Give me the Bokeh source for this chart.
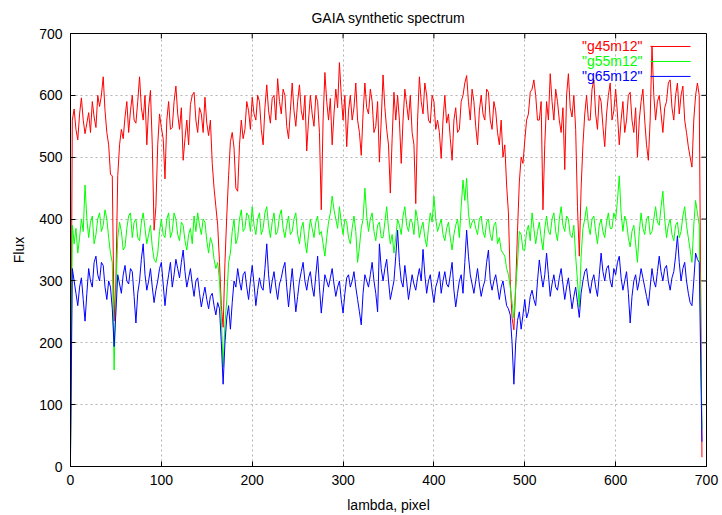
from bokeh.plotting import figure
from bokeh.models import Range1d, FixedTicker, Label
from bokeh.embed import file_html
from bokeh.resources import INLINE

# ---------------- data ----------------
pixel = list(range(0, 693, 2)) + [695]

g45m12 = [30, 560,
    578, 545, 528, 570, 596, 560, 538, 555, 572, 540, 590, 565, 548, 600, 582, 600, 630, 575, 540, 520,
    472, 470, 235, 300, 470, 520, 545, 530, 565, 590, 540, 575, 600, 560, 555, 590, 630, 580, 560, 600,
    520, 580, 608, 520, 382, 420, 520, 570, 548, 530, 465, 560, 590, 545, 548, 590, 615, 570, 545, 580,
    495, 530, 560, 520, 585, 600, 605, 560, 540, 580, 570, 540, 597, 555, 535, 560, 490, 450, 420, 390,
    330, 260, 225, 330, 405, 470, 525, 540, 515, 450, 445, 520, 560, 530, 545, 590, 575, 545, 597, 570,
    560, 600, 590, 545, 520, 580, 617, 575, 555, 595, 600, 560, 627, 590, 570, 610, 600, 550, 530, 575,
    620, 575, 550, 590, 617, 575, 560, 600, 510, 560, 600, 570, 550, 600, 590, 540, 415, 560, 637, 590,
    560, 595, 520, 570, 610, 580, 653, 600, 560, 600, 517, 575, 600, 560, 580, 620, 560, 540, 503, 570,
    620, 580, 570, 610, 590, 540, 550, 590, 492, 560, 633, 580, 545, 520, 442, 530, 605, 560, 600, 560,
    490, 560, 610, 585, 560, 600, 540, 520, 425, 560, 630, 590, 570, 620, 600, 560, 555, 600, 590, 545,
    560, 540, 498, 560, 600, 555, 570, 530, 495, 560, 580, 540, 545, 590, 600, 620, 632, 590, 560, 610,
    590, 550, 520, 575, 600, 570, 560, 610, 605, 560, 545, 590, 575, 540, 520, 560, 500, 520, 455, 410,
    300, 240, 221, 290, 382, 460, 500, 490, 527, 560, 570, 605, 610, 625, 600, 560, 560, 590, 415, 520,
    590, 560, 635, 590, 560, 610, 590, 560, 540, 580, 480, 600, 635, 580, 565, 600, 545, 420, 340, 450,
    520, 570, 600, 560, 560, 610, 625, 570, 545, 600, 590, 550, 517, 570, 600, 620, 560, 575, 610, 570,
    520, 560, 590, 540, 560, 600, 605, 560, 540, 580, 500, 560, 590, 610, 560, 520, 495, 560, 680, 600,
    560, 590, 600, 570, 540, 580, 590, 620, 625, 580, 560, 600, 620, 570, 600, 615, 560, 540, 517, 500,
    484, 560, 600, 620, 600,
    15]

g55m12 = [20, 390,
    360, 385, 345, 370, 400, 380, 455, 400, 370, 395, 405, 360, 375, 400, 410, 380, 390, 415, 400, 370,
    345, 330, 156, 280, 370, 395, 380, 350, 355, 385, 405, 410, 370, 395, 400, 370, 365, 395, 410, 385,
    360, 375, 390, 355, 335, 330, 345, 380, 400, 375, 370, 400, 410, 370, 380, 410, 400, 375, 365, 395,
    390, 365, 350, 375, 385, 360, 405, 380, 410, 390, 375, 400, 395, 365, 345, 370, 360, 335, 320, 330,
    300, 240, 161, 230, 270, 330, 345, 380, 400, 360, 370, 400, 415, 380, 385, 410, 405, 380, 420, 390,
    375, 400, 410, 375, 385, 410, 420, 390, 370, 395, 410, 375, 380, 405, 415, 385, 370, 390, 405, 375,
    380, 400, 410, 375, 360, 385, 395, 365, 345, 375, 400, 385, 370, 395, 405, 375, 380, 360, 340, 370,
    395, 410, 437, 415, 400, 385, 420, 395, 375, 400, 395, 370, 360, 385, 405, 380, 330, 355, 385, 400,
    450, 405, 380, 400, 410, 380, 365, 390, 395, 370, 370, 395, 420, 385, 360, 375, 345, 370, 400, 390,
    375, 405, 420, 390, 380, 400, 395, 375, 415, 400, 370, 385, 395, 370, 355, 385, 410, 395, 437, 400,
    380, 390, 400, 375, 365, 385, 395, 370, 350, 375, 390, 400, 370, 420, 463, 430, 466, 410, 385, 395,
    400, 385, 375, 400, 405, 380, 370, 395, 400, 375, 365, 390, 395, 360, 370, 350, 345, 340, 320, 310,
    290, 265, 240, 290, 330, 380, 375, 350, 350, 380, 390, 365, 410, 385, 360, 380, 395, 370, 350, 385,
    405, 380, 375, 400, 410, 380, 365, 400, 420, 390, 380, 405, 400, 375, 370, 390, 340, 300, 258, 340,
    385, 400, 420, 390, 375, 400, 405, 380, 360, 390, 400, 380, 370, 395, 410, 385, 385, 410, 400, 430,
    470, 410, 380, 405, 395, 370, 355, 380, 390, 360, 330, 380, 410, 385, 375, 400, 405, 375, 380, 400,
    420, 395, 390, 420, 445, 400, 370, 390, 400, 375, 365, 390, 395, 370, 380, 405, 420, 390, 370, 350,
    330, 390, 430, 410, 390,
    60]

g65m12 = [15, 320,
    300, 280, 260, 290, 305, 270, 235, 280, 320, 300, 290, 330, 340, 310, 300, 330, 325, 290, 270, 300,
    290, 255, 194, 250, 310, 295, 280, 310, 325, 300, 295, 320, 315, 275, 232, 280, 300, 335, 360, 310,
    285, 300, 320, 290, 265, 285, 300, 320, 330, 295, 260, 290, 310, 330, 290, 310, 335, 320, 305, 330,
    350, 315, 290, 305, 320, 295, 275, 300, 305, 280, 258, 275, 290, 270, 255, 275, 280, 260, 245, 265,
    255, 200, 133, 200, 240, 260, 222, 265, 300, 290, 320, 300, 285, 310, 315, 290, 270, 300, 325, 295,
    260, 285, 305, 290, 285, 320, 360, 310, 280, 300, 315, 290, 270, 295, 305, 320, 330, 290, 258, 290,
    320, 285, 250, 275, 300, 315, 330, 300, 285, 305, 315, 290, 275, 310, 340, 290, 248, 280, 310, 300,
    290, 305, 320, 295, 275, 290, 300, 270, 248, 280, 305, 310, 290, 300, 315, 290, 270, 250, 229, 280,
    310, 300, 290, 310, 330, 300, 280, 250, 360, 320, 300, 320, 335, 300, 270, 285, 300, 340, 382, 330,
    300, 290, 325, 300, 270, 290, 310, 295, 285, 305, 320, 300, 351, 310, 280, 300, 310, 285, 265, 290,
    300, 315, 280, 300, 315, 295, 290, 310, 330, 285, 258, 280, 300, 310, 280, 330, 382, 340, 310, 295,
    280, 300, 320, 295, 275, 290, 300, 330, 350, 300, 285, 300, 310, 290, 270, 290, 300, 280, 260, 255,
    245, 200, 133, 200, 236, 250, 222, 245, 270, 240, 250, 275, 285, 270, 260, 300, 334, 310, 290, 310,
    345, 310, 275, 295, 310, 290, 285, 305, 320, 295, 270, 290, 305, 280, 255, 275, 290, 265, 241, 280,
    300, 315, 320, 295, 280, 300, 310, 290, 275, 310, 345, 315, 300, 320, 325, 300, 290, 320, 310, 330,
    340, 305, 285, 300, 315, 280, 232, 275, 300, 310, 285, 300, 320, 305, 290, 275, 260, 290, 320, 300,
    290, 315, 340, 315, 300, 320, 325, 300, 285, 305, 315, 340, 373, 330, 300, 320, 330, 300, 280, 265,
    260, 300, 345, 335, 330,
    40]

series_names = ['"g45m12"', '"g55m12"', '"g65m12"']
series_colors = ["#ff0000", "#00ff00", "#0000ff"]
tick_values = [0, 100, 200, 300, 400, 500, 600, 700]
chart_title = "GAIA synthetic spectrum"

# ---------------- figure ----------------
FONT = "Liberation Sans"
FS = "14px"
W, H = 722, 515
BL, BR, BT, BB = 70, 16, 33, 48
FRAME_W, FRAME_H = W - BL - BR, H - BT - BB
X0, X1, Y0, Y1 = 0, 700, 0, 700
TICK_PX = 5

p = figure(width=W, height=H, output_backend="svg", toolbar_location=None,
           x_range=Range1d(X0, X1), y_range=Range1d(Y0, Y1),
           min_border_left=BL, min_border_right=BR,
           min_border_top=BT, min_border_bottom=BB,
           title=chart_title)
p.background_fill_color = "white"
p.border_fill_color = "white"
p.outline_line_color = "black"
p.outline_line_width = 1

p.title.align = "center"
p.title.vertical_align = "top"
p.title.text_font = FONT
p.title.text_font_size = FS
p.title.text_font_style = "normal"
p.title.text_color = "black"
p.title.standoff = 12

for ax in (p.xaxis[0], p.yaxis[0]):
    ax.ticker = FixedTicker(ticks=tick_values)
    ax.major_tick_in = TICK_PX
    ax.major_tick_out = 0
    ax.minor_tick_line_color = None
    ax.axis_line_color = "black"
    ax.major_tick_line_color = "black"
    ax.major_label_text_font = FONT
    ax.major_label_text_font_size = FS
    ax.major_label_text_color = "black"
    ax.major_label_standoff = 8
    ax.axis_label_text_font = FONT
    ax.axis_label_text_font_size = FS
    ax.axis_label_text_font_style = "normal"
    ax.axis_label_text_color = "black"
    ax.axis_label_standoff = 9
p.xaxis[0].axis_label = "lambda, pixel"
p.yaxis[0].axis_label = "Flux"

for g in (p.xgrid[0], p.ygrid[0]):
    g.ticker = FixedTicker(ticks=tick_values)
    g.grid_line_color = "#b4b4b4"
    g.grid_line_dash = "2 3"
    g.grid_line_width = 1

# mirrored inward ticks on the top and right borders (gnuplot style)
dy = TICK_PX * (Y1 - Y0) / FRAME_H
dx = TICK_PX * (X1 - X0) / FRAME_W
p.segment(x0=tick_values, y0=[Y1] * len(tick_values),
          x1=tick_values, y1=[Y1 - dy] * len(tick_values), line_color="black")
p.segment(x0=[X1] * len(tick_values), y0=tick_values,
          x1=[X1 - dx] * len(tick_values), y1=tick_values, line_color="black")

for ys, col in zip([g45m12, g55m12, g65m12], series_colors):
    n = min(len(pixel), len(ys))
    p.line(pixel[:n], ys[:n], line_color=col, line_width=1)

# ---------------- gnuplot-style key (text, then sample line) ----------------
key_text_x = 629.6
key_line_x0, key_line_x1 = 638.4, 682.4
key_rows_y = [679.0, 654.8, 630.6]
for name, col, ky in zip(series_names, series_colors, key_rows_y):
    p.add_layout(Label(x=key_text_x, y=ky, text=name, text_color=col,
                       text_font=FONT, text_font_size=FS,
                       text_align="right", text_baseline="middle"))
    p.segment(x0=[key_line_x0], y0=[ky], x1=[key_line_x1], y1=[ky],
              line_color=col, line_width=1)

open("out.html", "w").write(file_html(p, INLINE))
